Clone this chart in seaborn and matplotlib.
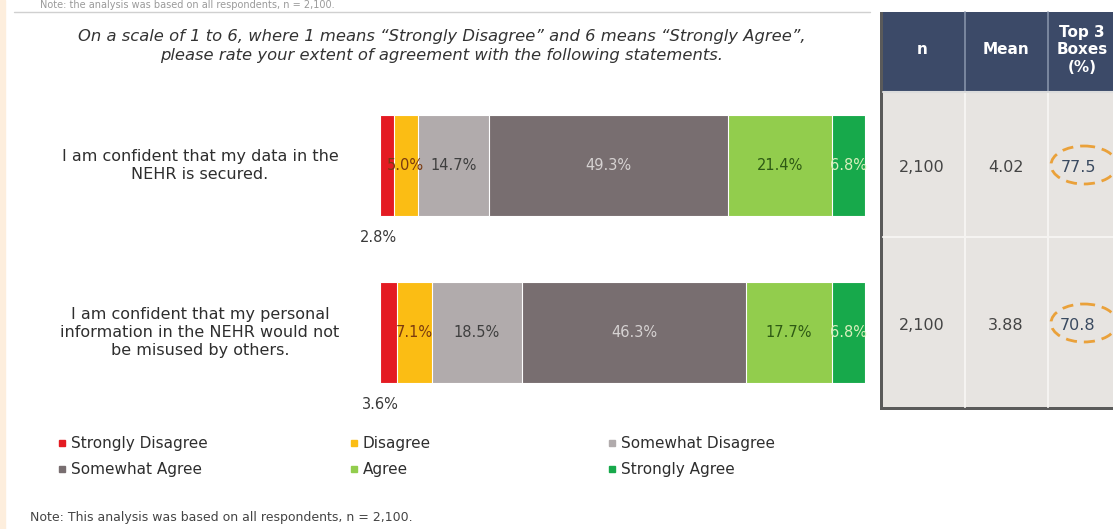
import matplotlib
matplotlib.use("Agg")
import matplotlib.pyplot as plt
import seaborn as sns
import numpy as np
from matplotlib.patches import Rectangle, Ellipse
from matplotlib.lines import Line2D

# ---------------- data ----------------
statements = [
    "I am confident that my data in the\nNEHR is secured.",
    "I am confident that my personal\ninformation in the NEHR would not\nbe misused by others.",
]
categories = ["Strongly Disagree", "Disagree", "Somewhat Disagree",
              "Somewhat Agree", "Agree", "Strongly Agree"]
strongly_disagree = [2.8, 3.6]
disagree = [5.0, 7.1]
somewhat_disagree = [14.7, 18.5]
somewhat_agree = [49.3, 46.3]
agree = [21.4, 17.7]
strongly_agree = [6.8, 6.8]
n_values = ["2,100", "2,100"]
mean_values = ["4.02", "3.88"]
top3_values = ["77.5", "70.8"]
table_headers = ["n", "Mean", "Top 3\nBoxes\n(%)"]

title_text = ("On a scale of 1 to 6, where 1 means \u201cStrongly Disagree\u201d and 6 means \u201cStrongly Agree\u201d,\n"
              "please rate your extent of agreement with the following statements.")
note_text = "Note: This analysis was based on all respondents, n = 2,100."
top_note_text = "Note: the analysis was based on all respondents, n = 2,100."

colors = ["#e41b22", "#fbbd14", "#b1abac", "#786e70", "#92cd4d", "#17a94b"]
label_colors = ["#3a3a3a", "#7a3a10", "#3f3f3f", "#d6d2d2", "#2e5a14", "#d9f0bd"]

# ---------------- figure ----------------
W, H = 1113, 529
sns.set_theme(style="white")
plt.rcParams["font.family"] = ["DejaVu Sans"]
fig = plt.figure(figsize=(W / 100, H / 100), dpi=100)
fig.patch.set_facecolor("white")


def fx(x):
    return x / W


def fy(y):
    return 1 - y / H


# left peach strip and faint top note
fig.patches.append(Rectangle((0, 0), fx(5), 1, transform=fig.transFigure,
                             color="#fdeedd", zorder=0))
fig.text(fx(40), fy(5), top_note_text, fontsize=7, color="#9a9a9a",
         va="center", ha="left")
fig.add_artist(Line2D([fx(14), fx(870)], [fy(12), fy(12)], color="#d0d0d0", lw=1))

# title
fig.text(fx(442), fy(46), title_text, ha="center", va="center",
         fontsize=11.8, style="italic", color="#333333", linespacing=1.3)

# ---------------- stacked bars ----------------
vals = np.array([strongly_disagree, disagree, somewhat_disagree,
                 somewhat_agree, agree, strongly_agree])
cums = np.cumsum(vals, axis=0)

ax = fig.add_axes([fx(380), fy(416), (865 - 380) / W, (416 - 82) / H])
for i in reversed(range(len(categories))):
    sns.barplot(x=cums[i], y=statements, orient="h", color=colors[i],
                saturation=1, width=0.61, edgecolor="white", linewidth=0.8,
                ax=ax)
ax.set_xlim(0, 100)
ax.set_ylim(1.5, -0.5)
ax.set_xlabel("")
ax.set_ylabel("")
ax.set_xticks([])
ax.set_yticks([])
for s in ax.spines.values():
    s.set_visible(False)

for j in range(len(statements)):
    for i in range(1, len(categories)):
        c = cums[i, j] - vals[i, j] / 2
        ax.text(c, j, f"{vals[i, j]:.1f}%", ha="center", va="center",
                fontsize=10.5, color=label_colors[i])
    ax.text(vals[0, j] / 2 - 1.8, j + 0.43, f"{vals[0, j]:.1f}%",
            ha="center", va="center", fontsize=10.5, color="#3a3a3a")
    ax.text(-0.371, j, statements[j], transform=ax.get_yaxis_transform(),
            ha="center", va="center", fontsize=11.5, color="#2e2e2e",
            linespacing=1.25, multialignment="center")

# ---------------- legend (three columns) ----------------
order_cols = [[0, 3], [1, 4], [2, 5]]
col_x = [58, 350, 608]
for cx, idxs in zip(col_x, order_cols):
    handles = [Line2D([], [], marker="s", linestyle="none", markersize=5,
                      color=colors[k]) for k in idxs]
    fig.legend(handles, [categories[k] for k in idxs], loc="upper left",
               bbox_to_anchor=(fx(cx), fy(436)), frameon=False,
               fontsize=11, handlelength=0.5, handletextpad=0.35,
               labelspacing=0.72, borderpad=0, borderaxespad=0,
               labelcolor="#2e2e2e")

fig.text(fx(30), fy(517), note_text, fontsize=9, color="#444444",
         va="center", ha="left")

# ---------------- table ----------------
axt = fig.add_axes([fx(880), fy(412), (1145 - 880) / W, (412 - 11) / H])
axt.set_xlim(880, 1145)
axt.set_ylim(412, 11)
axt.axis("off")
axt.add_patch(Rectangle((880, 12), 270, 398, facecolor="#5a5a5a", edgecolor="none"))
axt.add_patch(Rectangle((883, 92), 270, 315, facecolor="#e7e4e1", edgecolor="none"))
axt.add_patch(Rectangle((883, 12), 270, 80, facecolor="#3c4a68", edgecolor="none"))
for xe in [965, 1048]:
    axt.plot([xe, xe], [12, 92], color="#8591a8", lw=1.2)
    axt.plot([xe, xe], [92, 407], color="#f5f3f1", lw=1.5)
axt.plot([883, 1145], [237, 237], color="#f5f3f1", lw=1.5)
axt.plot([883, 1145], [92, 92], color="#dcdcdc", lw=1.5)

col_cx = [922, 1006, 1082]
for cxh, h in zip(col_cx, table_headers):
    axt.text(cxh, 50, h, ha="center", va="center", color="white",
             fontsize=11, fontweight="bold", linespacing=1.2)
row_y = [167, 325]
for ry, nv, mv, tv in zip(row_y, n_values, mean_values, top3_values):
    axt.text(922, ry, nv, ha="center", va="center", fontsize=11.5, color="#444444")
    axt.text(1006, ry, mv, ha="center", va="center", fontsize=11.5, color="#444444")
    axt.text(1078, ry, tv, ha="center", va="center", fontsize=11.5, color="#3a4a60")
    axt.add_patch(Ellipse((1084, ry - 2), 66, 38, fill=False, edgecolor="#eaa13a",
                          lw=2, linestyle=(0, (4, 2.5))))

fig.savefig("out.png", dpi=100)
